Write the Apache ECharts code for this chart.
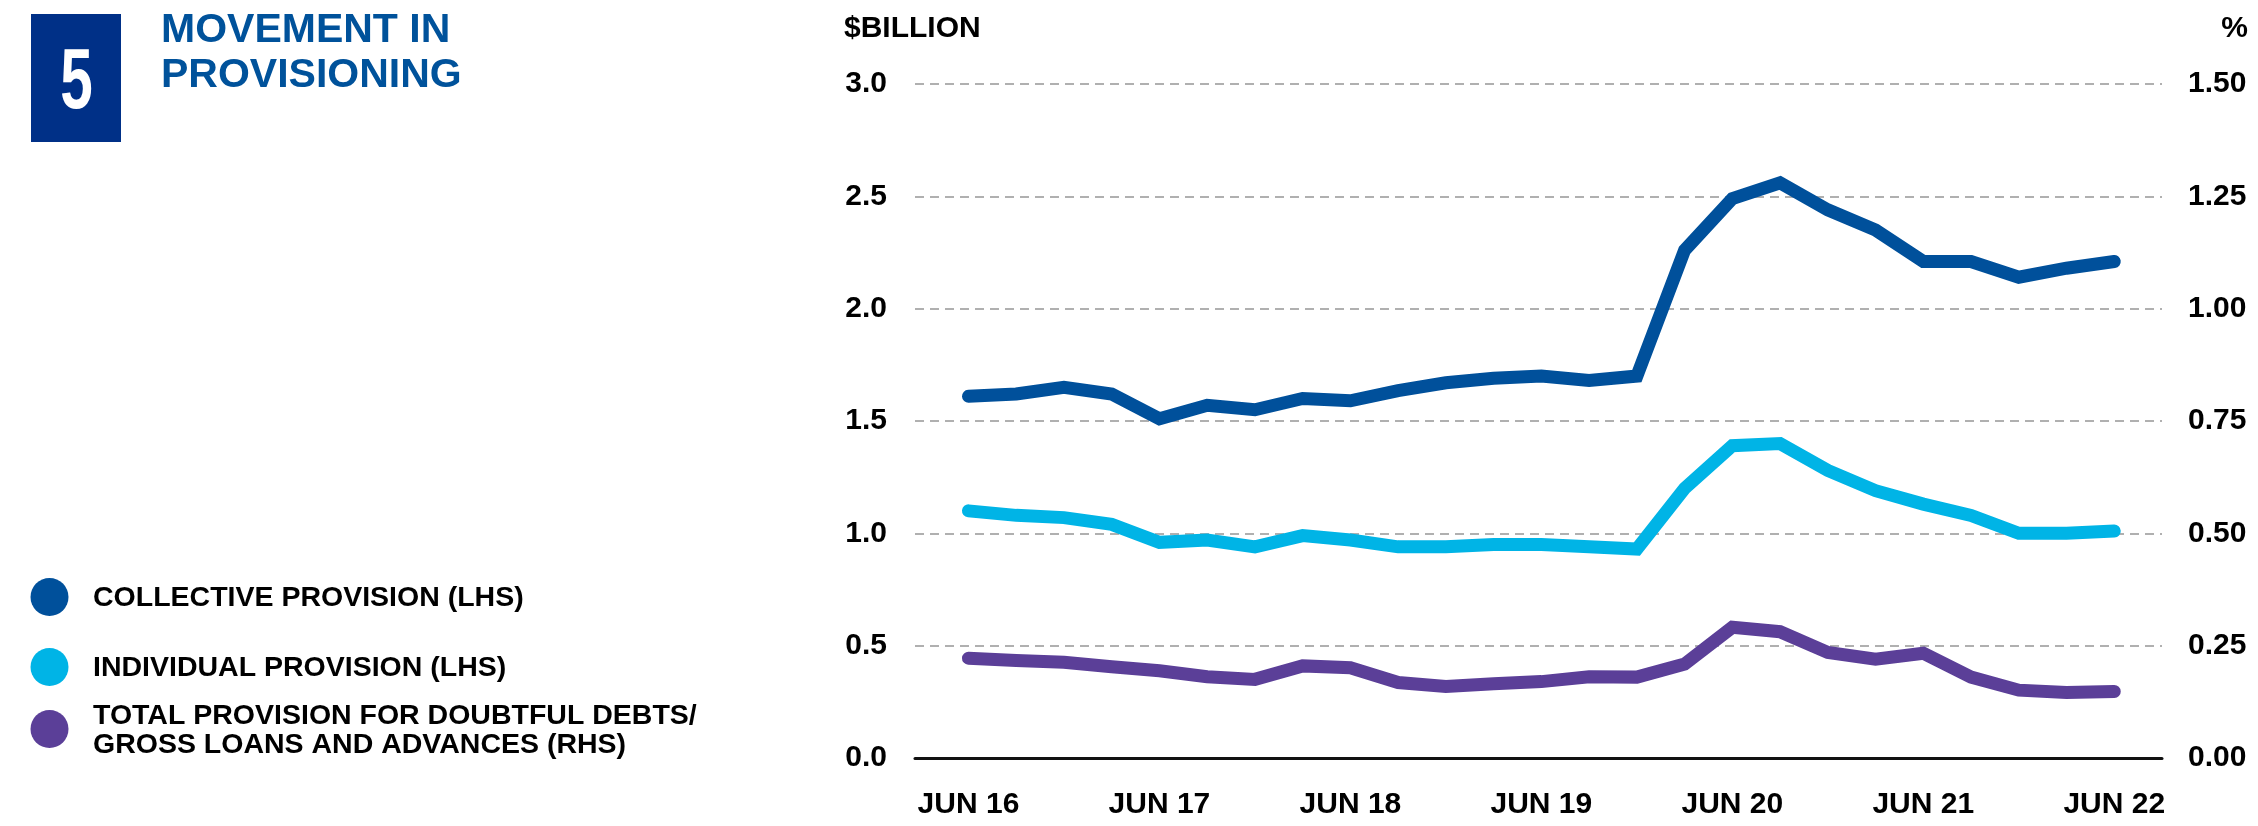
<!DOCTYPE html>
<html>
<head>
<meta charset="utf-8">
<script src="https://cdn.jsdelivr.net/npm/echarts@6/dist/echarts.min.js"></script>
<style>
html,body{margin:0;padding:0;background:#fff;}
#chart{width:2258px;height:826px;}
</style>
</head>
<body>
<div id="chart"></div>
<script>
// ---- data ----
const categories = ['JUN 16','SEP 16','DEC 16','MAR 17','JUN 17','SEP 17','DEC 17','MAR 18','JUN 18','SEP 18','DEC 18','MAR 19','JUN 19','SEP 19','DEC 19','MAR 20','JUN 20','SEP 20','DEC 20','MAR 21','JUN 21','SEP 21','DEC 21','MAR 22','JUN 22'];
const tickPositions = [0,4,8,12,16,20,24];
const leftTicks = [0,0.5,1,1.5,2,2.5,3];
const rightTicks = [0,0.25,0.5,0.75,1,1.25,1.5];
const seriesNames = ['COLLECTIVE PROVISION (LHS)','INDIVIDUAL PROVISION (LHS)','TOTAL PROVISION FOR DOUBTFUL DEBTS/\nGROSS LOANS AND ADVANCES (RHS)'];
const collective = [1.61,1.62,1.65,1.62,1.51,1.57,1.55,1.60,1.59,1.635,1.67,1.69,1.70,1.68,1.70,2.26,2.49,2.56,2.44,2.35,2.21,2.21,2.14,2.18,2.21];
const individual = [1.10,1.08,1.07,1.04,0.96,0.97,0.94,0.99,0.97,0.94,0.94,0.95,0.95,0.94,0.93,1.20,1.39,1.40,1.28,1.19,1.13,1.08,1.00,1.00,1.01];
const ratio = [0.222,0.217,0.213,0.203,0.194,0.181,0.175,0.205,0.201,0.168,0.159,0.165,0.170,0.181,0.180,0.209,0.291,0.281,0.235,0.220,0.233,0.180,0.151,0.146,0.148];
const titleLines = ['MOVEMENT IN','PROVISIONING'];
const chartNumber = '5';
const leftUnit = '$BILLION';
const rightUnit = '%';

// ---- styles ----
const FONT = '"Liberation Sans", Arial, Helvetica, sans-serif';
const colors = ['#00509B','#00B4E6','#5B3F98'];
const chart = echarts.init(document.getElementById('chart'));

const legendY = [597, 667, 729];
const legendGraphics = [];
seriesNames.forEach((n, i) => {
  legendGraphics.push({type:'circle', shape:{cx:49.5, cy:legendY[i], r:19}, style:{fill:colors[i]}});
  legendGraphics.push({type:'text', x:93, y:legendY[i]+1.5, style:{text:n, fill:'#000', font:'bold 28.5px ' + FONT, align:'left', verticalAlign:'middle', lineHeight:29}});
});

const toPairs = arr => arr.map((v,i)=>[i,v]);

chart.setOption({
  animation:false,
  backgroundColor:'#fff',
  grid:{left:915, right:96, top:84, bottom:68, containLabel:false},
  xAxis:{
    type:'value', min:-1.12, max:25,
    axisLine:{show:true, onZero:false, lineStyle:{color:'#111', width:3}},
    axisTick:{show:false},
    splitLine:{show:false},
    axisLabel:{
      customValues: tickPositions,
      margin:32, color:'#000', fontSize:30, fontWeight:'bold', fontFamily:FONT,
      formatter: v => categories[Math.round(v)]
    }
  },
  yAxis:[
    {type:'value', min:0, max:3, interval:0.5, position:'left',
     axisLine:{show:false}, axisTick:{show:false},
     axisLabel:{margin:28, color:'#000', fontSize:30, fontWeight:'bold', fontFamily:FONT, formatter:v=>v.toFixed(1)},
     splitLine:{show:true, lineStyle:{color:'#b0b0b0', width:2, type:[9,6]}}},
    {type:'value', min:0, max:1.5, interval:0.25, position:'right',
     axisLine:{show:false}, axisTick:{show:false},
     axisLabel:{margin:26, color:'#000', fontSize:30, fontWeight:'bold', fontFamily:FONT, formatter:v=>v.toFixed(2)},
     splitLine:{show:false}}
  ],
  series:[
    {name:seriesNames[2], type:'line', yAxisIndex:1, data:toPairs(ratio), symbol:'none',
     lineStyle:{color:colors[2], width:13, cap:'round', join:'miter'}, z:3},
    {name:seriesNames[1], type:'line', yAxisIndex:0, data:toPairs(individual), symbol:'none',
     lineStyle:{color:colors[1], width:13, cap:'round', join:'miter'}, z:4},
    {name:seriesNames[0], type:'line', yAxisIndex:0, data:toPairs(collective), symbol:'none',
     lineStyle:{color:colors[0], width:13, cap:'round', join:'miter'}, z:5}
  ],
  graphic:[
    {type:'rect', shape:{x:31, y:14, width:90, height:128}, style:{fill:'#003087'}},
    {type:'text', x:76.5, y:84, scaleX:0.68, style:{text:chartNumber, fill:'#fff', font:'bold 86px ' + FONT, align:'center', verticalAlign:'middle'}},
    {type:'text', x:161, y:31, style:{text:titleLines[0], fill:'#00529B', font:'bold 41px ' + FONT, align:'left', verticalAlign:'middle'}},
    {type:'text', x:161, y:76, style:{text:titleLines[1], fill:'#00529B', font:'bold 41px ' + FONT, align:'left', verticalAlign:'middle'}},
    {type:'text', x:844, y:29, style:{text:leftUnit, fill:'#000', font:'bold 30px ' + FONT, align:'left', verticalAlign:'middle'}},
    {type:'text', x:2248, y:29, style:{text:rightUnit, fill:'#000', font:'bold 30px ' + FONT, align:'right', verticalAlign:'middle'}}
  ].concat(legendGraphics)
});
</script>
</body>
</html>
